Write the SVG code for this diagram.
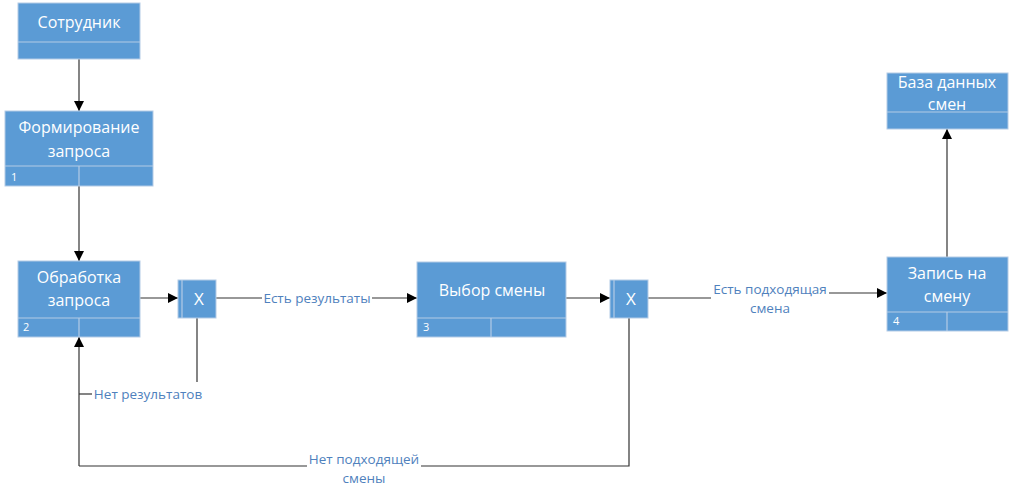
<svg xmlns="http://www.w3.org/2000/svg" width="1015" height="496" viewBox="0 0 1015 496">
  <style>
    .box { fill: #5B9BD5; stroke: #B4CBE6; stroke-width: 1; }
    .div { stroke: #B4CBE6; stroke-width: 1.2; fill: none; }
    .title { font-family: "Open Sans", "Noto Sans", sans-serif; font-size: 16px; fill: #FFFFFF; text-anchor: middle; }
    .gate { font-family: "Open Sans", "Noto Sans", sans-serif; font-size: 17px; fill: #FFFFFF; text-anchor: middle; }
    .num { font-family: "Open Sans", "Noto Sans", sans-serif; font-size: 11px; fill: #FFFFFF; }
    .edge { stroke: #333333; stroke-width: 1.2; fill: none; }
    .lbl { font-family: "Open Sans", "Noto Sans", sans-serif; font-size: 13.5px; fill: #4F81BD; text-anchor: middle; }
  </style>
  <defs>
    <marker id="arrow" markerWidth="10" markerHeight="10" refX="10" refY="5" orient="auto" markerUnits="userSpaceOnUse">
      <path d="M0,0 L10,5 L0,10 Z" fill="#000000"/>
    </marker>
  </defs>
  <rect width="1015" height="496" fill="#FFFFFF"/>

  <!-- connectors -->
  <g id="connectors">
    <line class="edge" x1="79" y1="59" x2="79" y2="111" marker-end="url(#arrow)"/>
    <line class="edge" x1="79" y1="186" x2="79" y2="261" marker-end="url(#arrow)"/>
    <line class="edge" x1="140" y1="298" x2="178" y2="298" marker-end="url(#arrow)"/>
    <!-- gateway 1: results found -->
    <line class="edge" x1="216" y1="298" x2="262" y2="298"/>
    <line class="edge" x1="372" y1="298" x2="417" y2="298" marker-end="url(#arrow)"/>
    <text class="lbl" x="317" y="303">Есть результаты</text>
    <!-- gateway 1: no results -->
    <polyline class="edge" points="197,318 197,382"/>
    <polyline class="edge" points="92,394 79,394"/>
    <text class="lbl" x="148" y="399">Нет результатов</text>
    <line class="edge" x1="79" y1="466" x2="79" y2="337" marker-end="url(#arrow)"/>
    <!-- choice to gateway 2 -->
    <line class="edge" x1="566" y1="298" x2="610" y2="298" marker-end="url(#arrow)"/>
    <!-- gateway 2: suitable shift -->
    <line class="edge" x1="648" y1="298" x2="711" y2="298"/>
    <line class="edge" x1="829" y1="293" x2="887" y2="293" marker-end="url(#arrow)"/>
    <text class="lbl" x="770" y="294">Есть подходящая</text>
    <text class="lbl" x="770" y="313">смена</text>
    <!-- gateway 2: no suitable shift -->
    <polyline class="edge" points="629,318 629,466 421,466"/>
    <line class="edge" x1="307" y1="466" x2="79" y2="466"/>
    <text class="lbl" x="364" y="464">Нет подходящей</text>
    <text class="lbl" x="364" y="483">смены</text>
    <!-- record to database -->
    <line class="edge" x1="947" y1="257" x2="947" y2="129" marker-end="url(#arrow)"/>
  </g>

  <!-- Сотрудник -->
  <g id="employee">
    <rect class="box" x="18" y="3" width="122" height="56"/>
    <line class="div" x1="18" y1="42" x2="140" y2="42"/>
    <text class="title" x="79" y="28">Сотрудник</text>
  </g>

  <!-- Формирование запроса -->
  <g id="form-request">
    <rect class="box" x="5" y="111" width="148" height="75"/>
    <line class="div" x1="5" y1="166" x2="153" y2="166"/>
    <line class="div" x1="79" y1="166" x2="79" y2="186"/>
    <text class="title" x="79" y="133">Формирование</text>
    <text class="title" x="79" y="157">запроса</text>
    <text class="num" x="11" y="181">1</text>
  </g>

  <!-- Обработка запроса -->
  <g id="process-request">
    <rect class="box" x="18" y="261" width="122" height="76"/>
    <line class="div" x1="18" y1="318" x2="140" y2="318"/>
    <line class="div" x1="79" y1="318" x2="79" y2="337"/>
    <text class="title" x="79" y="283">Обработка</text>
    <text class="title" x="79" y="306">запроса</text>
    <text class="num" x="23" y="331">2</text>
  </g>

  <!-- XOR 1 -->
  <g id="xor-1">
    <rect class="box" x="178" y="280" width="38" height="38"/>
    <line class="div" x1="182" y1="280" x2="182" y2="318"/>
    <text class="gate" x="199" y="305">X</text>
  </g>

  <!-- Выбор смены -->
  <g id="choose-shift">
    <rect class="box" x="417" y="262" width="149" height="75"/>
    <line class="div" x1="417" y1="318" x2="566" y2="318"/>
    <line class="div" x1="491" y1="318" x2="491" y2="337"/>
    <text class="title" x="492" y="296">Выбор смены</text>
    <text class="num" x="423" y="331">3</text>
  </g>

  <!-- XOR 2 -->
  <g id="xor-2">
    <rect class="box" x="610" y="280" width="38" height="38"/>
    <line class="div" x1="614" y1="280" x2="614" y2="318"/>
    <text class="gate" x="631" y="305">X</text>
  </g>

  <!-- Запись на смену -->
  <g id="book-shift">
    <rect class="box" x="887" y="257" width="121" height="74"/>
    <line class="div" x1="887" y1="312" x2="1008" y2="312"/>
    <line class="div" x1="947" y1="312" x2="947" y2="331"/>
    <text class="title" x="947" y="279">Запись на</text>
    <text class="title" x="947" y="302">смену</text>
    <text class="num" x="893" y="325">4</text>
  </g>

  <!-- База данных смен -->
  <g id="shift-db">
    <rect class="box" x="887" y="73" width="121" height="56"/>
    <line class="div" x1="887" y1="112" x2="1008" y2="112"/>
    <text class="title" x="947" y="88">База данных</text>
    <text class="title" x="947" y="110">смен</text>
  </g>
</svg>
